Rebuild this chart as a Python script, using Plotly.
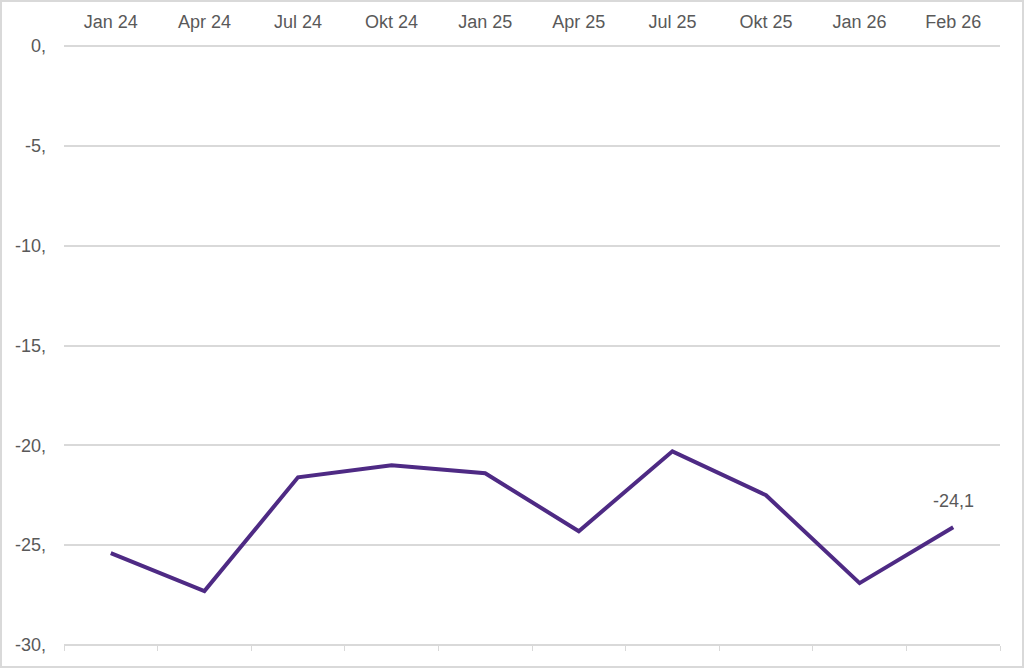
import plotly.graph_objects as go

categories = ["Jan 24", "Apr 24", "Jul 24", "Okt 24", "Jan 25", "Apr 25", "Jul 25", "Okt 25", "Jan 26", "Feb 26"]
values = [-25.4, -27.3, -21.6, -21.0, -21.4, -24.3, -20.3, -22.5, -26.9, -24.1]
y_ticks = [0, -5, -10, -15, -20, -25, -30]
y_tick_labels = ["0,", "-5,", "-10,", "-15,", "-20,", "-25,", "-30,"]
last_label = "-24,1"

W, H = 1024, 668
ML, MR, MT, MB = 64, 24, 43, 20
pw, ph = W - ML - MR, H - MT - MB
y_pad = 0.15

font = dict(family="Liberation Sans, Arial, sans-serif", size=18, color="#595959")

fig = go.Figure()
fig.add_trace(go.Scatter(
    x=list(range(len(categories))), y=values, mode="lines",
    line=dict(color="#4e2a84", width=4),
    hoverinfo="skip", showlegend=False,
))
# invisible trace to activate bottom axis
fig.add_trace(go.Scatter(x=[0], y=[values[0]], xaxis="x2", mode="markers",
                         marker=dict(opacity=0), hoverinfo="skip", showlegend=False))

n = len(categories)
fig.update_layout(
    width=W, height=H,
    margin=dict(l=ML, r=MR, t=MT, b=MB, pad=0),
    paper_bgcolor="white", plot_bgcolor="white",
    font=font,
    xaxis=dict(
        range=[-0.5, n - 0.5], side="top",
        tickvals=list(range(n)), ticktext=categories,
        showgrid=False, zeroline=False, showline=False, ticks="",
        tickfont=font, ticklabelstandoff=10,
    ),
    xaxis2=dict(
        range=[-0.5, n - 0.5], overlaying="x", side="bottom", anchor="free",
        position=y_pad / (30 + 2 * y_pad),
        tickvals=[i - 0.5 for i in range(n + 1)],
        showticklabels=False, ticks="outside", ticklen=5, tickwidth=1,
        tickcolor="#d9d9d9", showline=False,
        showgrid=False, zeroline=False,
    ),
    yaxis=dict(
        range=[-30 - y_pad, y_pad], tickvals=y_ticks, ticktext=y_tick_labels,
        showgrid=True, gridcolor="#d9d9d9", gridwidth=1.5,
        zeroline=False, showline=False, ticks="", tickfont=font,
        ticklabelstandoff=17,
    ),
    annotations=[dict(
        x=n - 1, y=values[-1], text=last_label, showarrow=False,
        yshift=26, font=font,
    )],
    shapes=[dict(
        type="rect", xref="paper", yref="paper",
        x0=-(ML - 1) / pw, x1=1 + (MR - 1) / pw,
        y0=-(MB - 1) / ph, y1=1 + (MT - 1) / ph,
        line=dict(color="#d9d9d9", width=2), fillcolor="rgba(0,0,0,0)",
    )],
)

fig.write_html("out.html", config={"displayModeBar": False},
               post_script="document.body.style.margin='0';document.body.style.overflow='hidden';")
